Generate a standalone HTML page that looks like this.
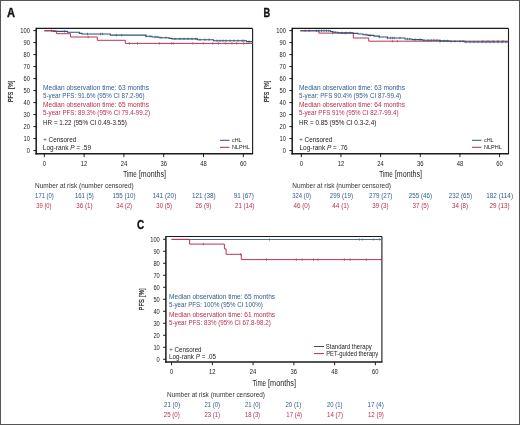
<!DOCTYPE html>
<html><head><meta charset="utf-8"><style>
html,body{margin:0;padding:0;background:#fff;}
body{width:520px;height:425px;overflow:hidden;}
svg{display:block;font-family:"Liberation Sans", sans-serif;filter:blur(0.3px);}
</style></head><body>
<svg width="520" height="425" viewBox="0 0 520 425">
<rect x="0" y="0" width="520" height="425" fill="#fff"/>
<rect x="0.5" y="0.5" width="519" height="424" fill="none" stroke="#555" stroke-width="1"/>
<text x="7.00" y="16.90" font-size="12.2" fill="#111" text-anchor="start" textLength="8.00" lengthAdjust="spacingAndGlyphs" font-weight="bold" stroke="#111" stroke-width="0.35">A</text>
<line x1="36.20" y1="28.40" x2="252.60" y2="28.40" stroke="#1a1a1a" stroke-width="1.1"/>
<line x1="252.60" y1="28.40" x2="252.60" y2="153.80" stroke="#1a1a1a" stroke-width="1.1"/>
<line x1="36.20" y1="27.85" x2="36.20" y2="154.60" stroke="#1a1a1a" stroke-width="1.5"/>
<line x1="35.45" y1="153.80" x2="253.15" y2="153.80" stroke="#1a1a1a" stroke-width="1.6"/>
<line x1="33.40" y1="150.60" x2="36.20" y2="150.60" stroke="#1a1a1a" stroke-width="1.0"/>
<text x="29.90" y="152.90" font-size="6.5" fill="#222" text-anchor="end" textLength="3.20" lengthAdjust="spacingAndGlyphs">0</text>
<line x1="33.40" y1="138.60" x2="36.20" y2="138.60" stroke="#1a1a1a" stroke-width="1.0"/>
<text x="29.90" y="140.90" font-size="6.5" fill="#222" text-anchor="end" textLength="6.40" lengthAdjust="spacingAndGlyphs">10</text>
<line x1="33.40" y1="126.60" x2="36.20" y2="126.60" stroke="#1a1a1a" stroke-width="1.0"/>
<text x="29.90" y="128.90" font-size="6.5" fill="#222" text-anchor="end" textLength="6.40" lengthAdjust="spacingAndGlyphs">20</text>
<line x1="33.40" y1="114.60" x2="36.20" y2="114.60" stroke="#1a1a1a" stroke-width="1.0"/>
<text x="29.90" y="116.90" font-size="6.5" fill="#222" text-anchor="end" textLength="6.40" lengthAdjust="spacingAndGlyphs">30</text>
<line x1="33.40" y1="102.60" x2="36.20" y2="102.60" stroke="#1a1a1a" stroke-width="1.0"/>
<text x="29.90" y="104.90" font-size="6.5" fill="#222" text-anchor="end" textLength="6.40" lengthAdjust="spacingAndGlyphs">40</text>
<line x1="33.40" y1="90.60" x2="36.20" y2="90.60" stroke="#1a1a1a" stroke-width="1.0"/>
<text x="29.90" y="92.90" font-size="6.5" fill="#222" text-anchor="end" textLength="6.40" lengthAdjust="spacingAndGlyphs">50</text>
<line x1="33.40" y1="78.60" x2="36.20" y2="78.60" stroke="#1a1a1a" stroke-width="1.0"/>
<text x="29.90" y="80.90" font-size="6.5" fill="#222" text-anchor="end" textLength="6.40" lengthAdjust="spacingAndGlyphs">60</text>
<line x1="33.40" y1="66.60" x2="36.20" y2="66.60" stroke="#1a1a1a" stroke-width="1.0"/>
<text x="29.90" y="68.90" font-size="6.5" fill="#222" text-anchor="end" textLength="6.40" lengthAdjust="spacingAndGlyphs">70</text>
<line x1="33.40" y1="54.60" x2="36.20" y2="54.60" stroke="#1a1a1a" stroke-width="1.0"/>
<text x="29.90" y="56.90" font-size="6.5" fill="#222" text-anchor="end" textLength="6.40" lengthAdjust="spacingAndGlyphs">80</text>
<line x1="33.40" y1="42.60" x2="36.20" y2="42.60" stroke="#1a1a1a" stroke-width="1.0"/>
<text x="29.90" y="44.90" font-size="6.5" fill="#222" text-anchor="end" textLength="6.40" lengthAdjust="spacingAndGlyphs">90</text>
<line x1="33.40" y1="30.60" x2="36.20" y2="30.60" stroke="#1a1a1a" stroke-width="1.0"/>
<text x="29.90" y="32.90" font-size="6.5" fill="#222" text-anchor="end" textLength="9.60" lengthAdjust="spacingAndGlyphs">100</text>
<line x1="44.30" y1="153.80" x2="44.30" y2="157.00" stroke="#1a1a1a" stroke-width="1.0"/>
<text x="44.30" y="165.80" font-size="6.6" fill="#222" text-anchor="middle" textLength="3.25" lengthAdjust="spacingAndGlyphs">0</text>
<line x1="84.10" y1="153.80" x2="84.10" y2="157.00" stroke="#1a1a1a" stroke-width="1.0"/>
<text x="84.10" y="165.80" font-size="6.6" fill="#222" text-anchor="middle" textLength="6.50" lengthAdjust="spacingAndGlyphs">12</text>
<line x1="123.90" y1="153.80" x2="123.90" y2="157.00" stroke="#1a1a1a" stroke-width="1.0"/>
<text x="123.90" y="165.80" font-size="6.6" fill="#222" text-anchor="middle" textLength="6.50" lengthAdjust="spacingAndGlyphs">24</text>
<line x1="163.70" y1="153.80" x2="163.70" y2="157.00" stroke="#1a1a1a" stroke-width="1.0"/>
<text x="163.70" y="165.80" font-size="6.6" fill="#222" text-anchor="middle" textLength="6.50" lengthAdjust="spacingAndGlyphs">36</text>
<line x1="203.50" y1="153.80" x2="203.50" y2="157.00" stroke="#1a1a1a" stroke-width="1.0"/>
<text x="203.50" y="165.80" font-size="6.6" fill="#222" text-anchor="middle" textLength="6.50" lengthAdjust="spacingAndGlyphs">48</text>
<line x1="243.30" y1="153.80" x2="243.30" y2="157.00" stroke="#1a1a1a" stroke-width="1.0"/>
<text x="243.30" y="165.80" font-size="6.6" fill="#222" text-anchor="middle" textLength="6.50" lengthAdjust="spacingAndGlyphs">60</text>
<text x="123.30" y="177.40" font-size="8.8" fill="#222" text-anchor="start" textLength="13.50" lengthAdjust="spacingAndGlyphs">Time</text>
<text x="138.90" y="177.40" font-size="8.8" fill="#222" text-anchor="start" textLength="27.10" lengthAdjust="spacingAndGlyphs">[months]</text>
<text transform="translate(12.80,102.00) rotate(-90)" x="0" y="0" font-size="7.0" fill="#111" stroke="#111" stroke-width="0.2" textLength="10.2" lengthAdjust="spacingAndGlyphs">PFS</text>
<text transform="translate(12.80,89.10) rotate(-90)" x="0" y="0" font-size="7.0" fill="#111" stroke="#111" stroke-width="0.15" textLength="8.5" lengthAdjust="spacingAndGlyphs">[%]</text>
<path d="M44.30,30.80 H53.20 V31.40 H67.50 V32.20 H79.40 V33.40 H82.00 V34.00 H110.30 V35.10 H146.00 V36.30 H152.00 V37.00 H159.00 V37.70 H169.00 V38.40 H172.00 V38.90 H197.50 V39.70 H213.50 V40.70 H246.50 V41.60 H252.60" fill="none" stroke="#2e5478" stroke-width="1.1"/>
<line x1="64.50" y1="30.20" x2="64.50" y2="32.60" stroke="#2e5478" stroke-width="0.7"/>
<line x1="87.50" y1="32.80" x2="87.50" y2="35.20" stroke="#2e5478" stroke-width="0.7"/>
<line x1="100.50" y1="32.80" x2="100.50" y2="35.20" stroke="#2e5478" stroke-width="0.7"/>
<line x1="102.50" y1="32.80" x2="102.50" y2="35.20" stroke="#2e5478" stroke-width="0.7"/>
<line x1="116.30" y1="33.90" x2="116.30" y2="36.30" stroke="#2e5478" stroke-width="0.7"/>
<line x1="121.70" y1="33.90" x2="121.70" y2="36.30" stroke="#2e5478" stroke-width="0.7"/>
<line x1="146.00" y1="35.10" x2="146.00" y2="37.50" stroke="#2e5478" stroke-width="0.7"/>
<line x1="150.00" y1="35.10" x2="150.00" y2="37.50" stroke="#2e5478" stroke-width="0.7"/>
<line x1="155.00" y1="35.80" x2="155.00" y2="38.20" stroke="#2e5478" stroke-width="0.7"/>
<line x1="157.00" y1="35.80" x2="157.00" y2="38.20" stroke="#2e5478" stroke-width="0.7"/>
<line x1="161.00" y1="36.50" x2="161.00" y2="38.90" stroke="#2e5478" stroke-width="0.7"/>
<line x1="166.00" y1="36.50" x2="166.00" y2="38.90" stroke="#2e5478" stroke-width="0.7"/>
<line x1="175.00" y1="37.70" x2="175.00" y2="40.10" stroke="#2e5478" stroke-width="0.7"/>
<line x1="180.00" y1="37.70" x2="180.00" y2="40.10" stroke="#2e5478" stroke-width="0.7"/>
<line x1="184.00" y1="37.70" x2="184.00" y2="40.10" stroke="#2e5478" stroke-width="0.7"/>
<line x1="188.00" y1="37.70" x2="188.00" y2="40.10" stroke="#2e5478" stroke-width="0.7"/>
<line x1="192.00" y1="37.70" x2="192.00" y2="40.10" stroke="#2e5478" stroke-width="0.7"/>
<line x1="196.00" y1="37.70" x2="196.00" y2="40.10" stroke="#2e5478" stroke-width="0.7"/>
<line x1="200.00" y1="38.50" x2="200.00" y2="40.90" stroke="#2e5478" stroke-width="0.7"/>
<line x1="205.00" y1="38.50" x2="205.00" y2="40.90" stroke="#2e5478" stroke-width="0.7"/>
<line x1="209.00" y1="38.50" x2="209.00" y2="40.90" stroke="#2e5478" stroke-width="0.7"/>
<line x1="217.00" y1="39.50" x2="217.00" y2="41.90" stroke="#2e5478" stroke-width="0.7"/>
<line x1="220.00" y1="39.50" x2="220.00" y2="41.90" stroke="#2e5478" stroke-width="0.7"/>
<line x1="223.00" y1="39.50" x2="223.00" y2="41.90" stroke="#2e5478" stroke-width="0.7"/>
<line x1="226.00" y1="39.50" x2="226.00" y2="41.90" stroke="#2e5478" stroke-width="0.7"/>
<line x1="230.00" y1="39.50" x2="230.00" y2="41.90" stroke="#2e5478" stroke-width="0.7"/>
<line x1="234.00" y1="39.50" x2="234.00" y2="41.90" stroke="#2e5478" stroke-width="0.7"/>
<line x1="238.00" y1="39.50" x2="238.00" y2="41.90" stroke="#2e5478" stroke-width="0.7"/>
<line x1="242.00" y1="39.50" x2="242.00" y2="41.90" stroke="#2e5478" stroke-width="0.7"/>
<line x1="244.00" y1="39.50" x2="244.00" y2="41.90" stroke="#2e5478" stroke-width="0.7"/>
<line x1="249.00" y1="40.40" x2="249.00" y2="42.80" stroke="#2e5478" stroke-width="0.7"/>
<path d="M44.30,30.80 H56.40 V33.70 H70.50 V37.00 H97.30 V40.30 H125.30 V43.40 H252.60" fill="none" stroke="#bb3556" stroke-width="1.0"/>
<line x1="51.50" y1="29.60" x2="51.50" y2="32.00" stroke="#bb3556" stroke-width="0.7"/>
<line x1="88.20" y1="35.80" x2="88.20" y2="38.20" stroke="#bb3556" stroke-width="0.7"/>
<line x1="129.40" y1="42.20" x2="129.40" y2="44.60" stroke="#bb3556" stroke-width="0.7"/>
<line x1="137.50" y1="42.20" x2="137.50" y2="44.60" stroke="#bb3556" stroke-width="0.7"/>
<line x1="159.40" y1="42.20" x2="159.40" y2="44.60" stroke="#bb3556" stroke-width="0.7"/>
<line x1="171.30" y1="42.20" x2="171.30" y2="44.60" stroke="#bb3556" stroke-width="0.7"/>
<line x1="173.20" y1="42.20" x2="173.20" y2="44.60" stroke="#bb3556" stroke-width="0.7"/>
<line x1="192.80" y1="42.20" x2="192.80" y2="44.60" stroke="#bb3556" stroke-width="0.7"/>
<line x1="203.20" y1="42.20" x2="203.20" y2="44.60" stroke="#bb3556" stroke-width="0.7"/>
<line x1="212.70" y1="42.20" x2="212.70" y2="44.60" stroke="#bb3556" stroke-width="0.7"/>
<line x1="218.40" y1="42.20" x2="218.40" y2="44.60" stroke="#bb3556" stroke-width="0.7"/>
<line x1="225.20" y1="42.20" x2="225.20" y2="44.60" stroke="#bb3556" stroke-width="0.7"/>
<line x1="231.90" y1="42.20" x2="231.90" y2="44.60" stroke="#bb3556" stroke-width="0.7"/>
<line x1="236.70" y1="42.20" x2="236.70" y2="44.60" stroke="#bb3556" stroke-width="0.7"/>
<line x1="243.40" y1="42.20" x2="243.40" y2="44.60" stroke="#bb3556" stroke-width="0.7"/>
<text x="43.00" y="89.80" font-size="6.8" fill="#2f5d8c" text-anchor="start" textLength="106.00" lengthAdjust="spacingAndGlyphs">Median observation time: 63 months</text>
<text x="43.00" y="97.60" font-size="6.8" fill="#2f5d8c" text-anchor="start" textLength="101.60" lengthAdjust="spacingAndGlyphs">5-year PFS: 91.6% (95% CI 87.2-96)</text>
<text x="43.00" y="107.10" font-size="6.8" fill="#b8304e" text-anchor="start" textLength="106.00" lengthAdjust="spacingAndGlyphs">Median observation time: 65 months</text>
<text x="43.00" y="115.20" font-size="6.8" fill="#b8304e" text-anchor="start" textLength="107.00" lengthAdjust="spacingAndGlyphs">5-year PFS: 89.3% (95% CI 79.4-99.2)</text>
<text x="43.00" y="124.60" font-size="6.8" fill="#222" text-anchor="start" textLength="83.80" lengthAdjust="spacingAndGlyphs">HR = 1.22 (95% CI 0.49-3.55)</text>
<text x="43.30" y="141.10" font-size="6.0" fill="#333" text-anchor="start">+</text>
<text x="48.60" y="142.00" font-size="6.4" fill="#222" text-anchor="start" textLength="27.80" lengthAdjust="spacingAndGlyphs">Censored</text>
<text x="42.80" y="149.70" font-size="6.3" fill="#222" textLength="48.20" lengthAdjust="spacingAndGlyphs">Log-rank <tspan font-style="italic">P</tspan> = .59</text>
<line x1="220.00" y1="140.30" x2="229.50" y2="140.30" stroke="#2f5378" stroke-width="1.0"/>
<text x="232.00" y="142.00" font-size="5.5" fill="#222" text-anchor="start" textLength="9.50" lengthAdjust="spacingAndGlyphs">cHL</text>
<line x1="220.00" y1="147.30" x2="229.50" y2="147.30" stroke="#a33055" stroke-width="1.0"/>
<text x="232.00" y="149.00" font-size="5.5" fill="#222" text-anchor="start" textLength="17.70" lengthAdjust="spacingAndGlyphs">NLPHL</text>
<text x="35.10" y="187.80" font-size="6.5" fill="#333" text-anchor="start" textLength="98.60" lengthAdjust="spacingAndGlyphs">Number at risk (number censored)</text>
<text x="35.10" y="197.70" font-size="6.4" fill="#2f5d8c" text-anchor="start" textLength="18.70" lengthAdjust="spacingAndGlyphs">171 (0)</text>
<text x="75.00" y="197.70" font-size="6.4" fill="#2f5d8c" text-anchor="start" textLength="18.80" lengthAdjust="spacingAndGlyphs">161 (5)</text>
<text x="112.50" y="197.70" font-size="6.4" fill="#2f5d8c" text-anchor="start" textLength="23.00" lengthAdjust="spacingAndGlyphs">155 (10)</text>
<text x="152.50" y="197.70" font-size="6.4" fill="#2f5d8c" text-anchor="start" textLength="23.80" lengthAdjust="spacingAndGlyphs">141 (20)</text>
<text x="192.00" y="197.70" font-size="6.4" fill="#2f5d8c" text-anchor="start" textLength="23.50" lengthAdjust="spacingAndGlyphs">121 (38)</text>
<text x="233.80" y="197.70" font-size="6.4" fill="#2f5d8c" text-anchor="start" textLength="20.00" lengthAdjust="spacingAndGlyphs">91 (67)</text>
<text x="36.30" y="207.60" font-size="6.4" fill="#b8304e" text-anchor="start" textLength="15.20" lengthAdjust="spacingAndGlyphs">39 (0)</text>
<text x="76.30" y="207.60" font-size="6.4" fill="#b8304e" text-anchor="start" textLength="16.20" lengthAdjust="spacingAndGlyphs">36 (1)</text>
<text x="116.30" y="207.60" font-size="6.4" fill="#b8304e" text-anchor="start" textLength="15.70" lengthAdjust="spacingAndGlyphs">34 (2)</text>
<text x="156.30" y="207.60" font-size="6.4" fill="#b8304e" text-anchor="start" textLength="15.70" lengthAdjust="spacingAndGlyphs">30 (5)</text>
<text x="195.50" y="207.60" font-size="6.4" fill="#b8304e" text-anchor="start" textLength="15.80" lengthAdjust="spacingAndGlyphs">26 (9)</text>
<text x="235.00" y="207.60" font-size="6.4" fill="#b8304e" text-anchor="start" textLength="19.30" lengthAdjust="spacingAndGlyphs">21 (14)</text>
<text x="263.60" y="16.90" font-size="12.2" fill="#111" text-anchor="start" textLength="6.70" lengthAdjust="spacingAndGlyphs" font-weight="bold" stroke="#111" stroke-width="0.35">B</text>
<line x1="292.20" y1="28.40" x2="508.50" y2="28.40" stroke="#1a1a1a" stroke-width="1.1"/>
<line x1="508.50" y1="28.40" x2="508.50" y2="153.80" stroke="#1a1a1a" stroke-width="1.1"/>
<line x1="292.20" y1="27.85" x2="292.20" y2="154.60" stroke="#1a1a1a" stroke-width="1.5"/>
<line x1="291.45" y1="153.80" x2="509.05" y2="153.80" stroke="#1a1a1a" stroke-width="1.6"/>
<line x1="289.40" y1="150.60" x2="292.20" y2="150.60" stroke="#1a1a1a" stroke-width="1.0"/>
<text x="285.90" y="152.90" font-size="6.5" fill="#222" text-anchor="end" textLength="3.20" lengthAdjust="spacingAndGlyphs">0</text>
<line x1="289.40" y1="138.60" x2="292.20" y2="138.60" stroke="#1a1a1a" stroke-width="1.0"/>
<text x="285.90" y="140.90" font-size="6.5" fill="#222" text-anchor="end" textLength="6.40" lengthAdjust="spacingAndGlyphs">10</text>
<line x1="289.40" y1="126.60" x2="292.20" y2="126.60" stroke="#1a1a1a" stroke-width="1.0"/>
<text x="285.90" y="128.90" font-size="6.5" fill="#222" text-anchor="end" textLength="6.40" lengthAdjust="spacingAndGlyphs">20</text>
<line x1="289.40" y1="114.60" x2="292.20" y2="114.60" stroke="#1a1a1a" stroke-width="1.0"/>
<text x="285.90" y="116.90" font-size="6.5" fill="#222" text-anchor="end" textLength="6.40" lengthAdjust="spacingAndGlyphs">30</text>
<line x1="289.40" y1="102.60" x2="292.20" y2="102.60" stroke="#1a1a1a" stroke-width="1.0"/>
<text x="285.90" y="104.90" font-size="6.5" fill="#222" text-anchor="end" textLength="6.40" lengthAdjust="spacingAndGlyphs">40</text>
<line x1="289.40" y1="90.60" x2="292.20" y2="90.60" stroke="#1a1a1a" stroke-width="1.0"/>
<text x="285.90" y="92.90" font-size="6.5" fill="#222" text-anchor="end" textLength="6.40" lengthAdjust="spacingAndGlyphs">50</text>
<line x1="289.40" y1="78.60" x2="292.20" y2="78.60" stroke="#1a1a1a" stroke-width="1.0"/>
<text x="285.90" y="80.90" font-size="6.5" fill="#222" text-anchor="end" textLength="6.40" lengthAdjust="spacingAndGlyphs">60</text>
<line x1="289.40" y1="66.60" x2="292.20" y2="66.60" stroke="#1a1a1a" stroke-width="1.0"/>
<text x="285.90" y="68.90" font-size="6.5" fill="#222" text-anchor="end" textLength="6.40" lengthAdjust="spacingAndGlyphs">70</text>
<line x1="289.40" y1="54.60" x2="292.20" y2="54.60" stroke="#1a1a1a" stroke-width="1.0"/>
<text x="285.90" y="56.90" font-size="6.5" fill="#222" text-anchor="end" textLength="6.40" lengthAdjust="spacingAndGlyphs">80</text>
<line x1="289.40" y1="42.60" x2="292.20" y2="42.60" stroke="#1a1a1a" stroke-width="1.0"/>
<text x="285.90" y="44.90" font-size="6.5" fill="#222" text-anchor="end" textLength="6.40" lengthAdjust="spacingAndGlyphs">90</text>
<line x1="289.40" y1="30.60" x2="292.20" y2="30.60" stroke="#1a1a1a" stroke-width="1.0"/>
<text x="285.90" y="32.90" font-size="6.5" fill="#222" text-anchor="end" textLength="9.60" lengthAdjust="spacingAndGlyphs">100</text>
<line x1="301.30" y1="153.80" x2="301.30" y2="157.00" stroke="#1a1a1a" stroke-width="1.0"/>
<text x="301.30" y="165.80" font-size="6.6" fill="#222" text-anchor="middle" textLength="3.25" lengthAdjust="spacingAndGlyphs">0</text>
<line x1="340.96" y1="153.80" x2="340.96" y2="157.00" stroke="#1a1a1a" stroke-width="1.0"/>
<text x="340.96" y="165.80" font-size="6.6" fill="#222" text-anchor="middle" textLength="6.50" lengthAdjust="spacingAndGlyphs">12</text>
<line x1="380.62" y1="153.80" x2="380.62" y2="157.00" stroke="#1a1a1a" stroke-width="1.0"/>
<text x="380.62" y="165.80" font-size="6.6" fill="#222" text-anchor="middle" textLength="6.50" lengthAdjust="spacingAndGlyphs">24</text>
<line x1="420.28" y1="153.80" x2="420.28" y2="157.00" stroke="#1a1a1a" stroke-width="1.0"/>
<text x="420.28" y="165.80" font-size="6.6" fill="#222" text-anchor="middle" textLength="6.50" lengthAdjust="spacingAndGlyphs">36</text>
<line x1="459.94" y1="153.80" x2="459.94" y2="157.00" stroke="#1a1a1a" stroke-width="1.0"/>
<text x="459.94" y="165.80" font-size="6.6" fill="#222" text-anchor="middle" textLength="6.50" lengthAdjust="spacingAndGlyphs">48</text>
<line x1="499.60" y1="153.80" x2="499.60" y2="157.00" stroke="#1a1a1a" stroke-width="1.0"/>
<text x="499.60" y="165.80" font-size="6.6" fill="#222" text-anchor="middle" textLength="6.50" lengthAdjust="spacingAndGlyphs">60</text>
<text x="379.30" y="177.40" font-size="8.8" fill="#222" text-anchor="start" textLength="13.50" lengthAdjust="spacingAndGlyphs">Time</text>
<text x="394.90" y="177.40" font-size="8.8" fill="#222" text-anchor="start" textLength="27.10" lengthAdjust="spacingAndGlyphs">[months]</text>
<text transform="translate(268.80,102.00) rotate(-90)" x="0" y="0" font-size="7.0" fill="#111" stroke="#111" stroke-width="0.2" textLength="10.2" lengthAdjust="spacingAndGlyphs">PFS</text>
<text transform="translate(268.80,89.10) rotate(-90)" x="0" y="0" font-size="7.0" fill="#111" stroke="#111" stroke-width="0.15" textLength="8.5" lengthAdjust="spacingAndGlyphs">[%]</text>
<path d="M300.30,30.80 H318.80 V33.10 H353.30 V38.00 H368.70 V41.20 H508.50" fill="none" stroke="#bb3556" stroke-width="1.0"/>
<line x1="305.00" y1="29.60" x2="305.00" y2="32.00" stroke="#bb3556" stroke-width="0.7"/>
<line x1="332.50" y1="31.90" x2="332.50" y2="34.30" stroke="#bb3556" stroke-width="0.7"/>
<line x1="345.00" y1="31.90" x2="345.00" y2="34.30" stroke="#bb3556" stroke-width="0.7"/>
<line x1="392.40" y1="40.00" x2="392.40" y2="42.40" stroke="#bb3556" stroke-width="0.7"/>
<line x1="397.40" y1="40.00" x2="397.40" y2="42.40" stroke="#bb3556" stroke-width="0.7"/>
<line x1="440.00" y1="40.00" x2="440.00" y2="42.40" stroke="#bb3556" stroke-width="0.7"/>
<line x1="483.00" y1="40.00" x2="483.00" y2="42.40" stroke="#bb3556" stroke-width="0.7"/>
<line x1="488.00" y1="40.00" x2="488.00" y2="42.40" stroke="#bb3556" stroke-width="0.7"/>
<line x1="493.00" y1="40.00" x2="493.00" y2="42.40" stroke="#bb3556" stroke-width="0.7"/>
<line x1="498.00" y1="40.00" x2="498.00" y2="42.40" stroke="#bb3556" stroke-width="0.7"/>
<line x1="503.00" y1="40.00" x2="503.00" y2="42.40" stroke="#bb3556" stroke-width="0.7"/>
<path d="M300.30,30.80 H330.50 V31.50 H333.00 V32.30 H338.00 V32.90 H353.00 V33.40 H358.00 V34.00 H363.00 V34.70 H368.00 V35.40 H374.00 V36.10 H379.30 V37.00 H387.40 V38.00 H405.00 V39.00 H412.00 V39.60 H422.30 V40.30 H440.00 V40.90 H449.00 V41.20 H464.70 V42.00 H508.50" fill="none" stroke="#2e5478" stroke-width="1.1"/>
<line x1="309.20" y1="29.60" x2="309.20" y2="32.00" stroke="#2e5478" stroke-width="0.7"/>
<line x1="316.50" y1="29.60" x2="316.50" y2="32.00" stroke="#2e5478" stroke-width="0.7"/>
<line x1="319.00" y1="29.60" x2="319.00" y2="32.00" stroke="#2e5478" stroke-width="0.7"/>
<line x1="321.50" y1="29.60" x2="321.50" y2="32.00" stroke="#2e5478" stroke-width="0.7"/>
<line x1="324.00" y1="29.60" x2="324.00" y2="32.00" stroke="#2e5478" stroke-width="0.7"/>
<line x1="326.50" y1="29.60" x2="326.50" y2="32.00" stroke="#2e5478" stroke-width="0.7"/>
<line x1="328.80" y1="29.60" x2="328.80" y2="32.00" stroke="#2e5478" stroke-width="0.7"/>
<line x1="335.00" y1="31.10" x2="335.00" y2="33.50" stroke="#2e5478" stroke-width="0.7"/>
<line x1="342.00" y1="31.70" x2="342.00" y2="34.10" stroke="#2e5478" stroke-width="0.7"/>
<line x1="346.00" y1="31.70" x2="346.00" y2="34.10" stroke="#2e5478" stroke-width="0.7"/>
<line x1="350.00" y1="31.70" x2="350.00" y2="34.10" stroke="#2e5478" stroke-width="0.7"/>
<line x1="366.00" y1="33.50" x2="366.00" y2="35.90" stroke="#2e5478" stroke-width="0.7"/>
<line x1="370.00" y1="34.20" x2="370.00" y2="36.60" stroke="#2e5478" stroke-width="0.7"/>
<line x1="379.30" y1="35.80" x2="379.30" y2="38.20" stroke="#2e5478" stroke-width="0.7"/>
<line x1="387.40" y1="36.80" x2="387.40" y2="39.20" stroke="#2e5478" stroke-width="0.7"/>
<line x1="390.50" y1="36.80" x2="390.50" y2="39.20" stroke="#2e5478" stroke-width="0.7"/>
<line x1="392.40" y1="36.80" x2="392.40" y2="39.20" stroke="#2e5478" stroke-width="0.7"/>
<line x1="394.30" y1="36.80" x2="394.30" y2="39.20" stroke="#2e5478" stroke-width="0.7"/>
<line x1="400.00" y1="36.80" x2="400.00" y2="39.20" stroke="#2e5478" stroke-width="0.7"/>
<line x1="407.40" y1="37.80" x2="407.40" y2="40.20" stroke="#2e5478" stroke-width="0.7"/>
<line x1="409.70" y1="37.80" x2="409.70" y2="40.20" stroke="#2e5478" stroke-width="0.7"/>
<line x1="415.00" y1="38.40" x2="415.00" y2="40.80" stroke="#2e5478" stroke-width="0.7"/>
<line x1="420.00" y1="38.40" x2="420.00" y2="40.80" stroke="#2e5478" stroke-width="0.7"/>
<line x1="424.00" y1="39.10" x2="424.00" y2="41.50" stroke="#2e5478" stroke-width="0.7"/>
<line x1="428.00" y1="39.10" x2="428.00" y2="41.50" stroke="#2e5478" stroke-width="0.7"/>
<line x1="431.00" y1="39.10" x2="431.00" y2="41.50" stroke="#2e5478" stroke-width="0.7"/>
<line x1="434.00" y1="39.10" x2="434.00" y2="41.50" stroke="#2e5478" stroke-width="0.7"/>
<line x1="437.00" y1="39.10" x2="437.00" y2="41.50" stroke="#2e5478" stroke-width="0.7"/>
<line x1="440.00" y1="39.70" x2="440.00" y2="42.10" stroke="#2e5478" stroke-width="0.7"/>
<line x1="444.00" y1="39.70" x2="444.00" y2="42.10" stroke="#2e5478" stroke-width="0.7"/>
<line x1="447.00" y1="39.70" x2="447.00" y2="42.10" stroke="#2e5478" stroke-width="0.7"/>
<line x1="451.00" y1="40.00" x2="451.00" y2="42.40" stroke="#2e5478" stroke-width="0.7"/>
<line x1="455.00" y1="40.00" x2="455.00" y2="42.40" stroke="#2e5478" stroke-width="0.7"/>
<line x1="460.00" y1="40.00" x2="460.00" y2="42.40" stroke="#2e5478" stroke-width="0.7"/>
<line x1="463.00" y1="40.00" x2="463.00" y2="42.40" stroke="#2e5478" stroke-width="0.7"/>
<line x1="466.00" y1="40.80" x2="466.00" y2="43.20" stroke="#2e5478" stroke-width="0.7"/>
<line x1="470.00" y1="40.80" x2="470.00" y2="43.20" stroke="#2e5478" stroke-width="0.7"/>
<line x1="474.00" y1="40.80" x2="474.00" y2="43.20" stroke="#2e5478" stroke-width="0.7"/>
<line x1="478.00" y1="40.80" x2="478.00" y2="43.20" stroke="#2e5478" stroke-width="0.7"/>
<line x1="482.00" y1="40.80" x2="482.00" y2="43.20" stroke="#2e5478" stroke-width="0.7"/>
<line x1="486.00" y1="40.80" x2="486.00" y2="43.20" stroke="#2e5478" stroke-width="0.7"/>
<line x1="490.00" y1="40.80" x2="490.00" y2="43.20" stroke="#2e5478" stroke-width="0.7"/>
<line x1="494.00" y1="40.80" x2="494.00" y2="43.20" stroke="#2e5478" stroke-width="0.7"/>
<line x1="498.00" y1="40.80" x2="498.00" y2="43.20" stroke="#2e5478" stroke-width="0.7"/>
<line x1="502.00" y1="40.80" x2="502.00" y2="43.20" stroke="#2e5478" stroke-width="0.7"/>
<line x1="506.00" y1="40.80" x2="506.00" y2="43.20" stroke="#2e5478" stroke-width="0.7"/>
<text x="299.00" y="89.80" font-size="6.8" fill="#2f5d8c" text-anchor="start" textLength="106.00" lengthAdjust="spacingAndGlyphs">Median observation time: 63 months</text>
<text x="299.00" y="97.60" font-size="6.8" fill="#2f5d8c" text-anchor="start" textLength="102.20" lengthAdjust="spacingAndGlyphs">5-year: PFS 90.4% (95% CI 87-99.4)</text>
<text x="299.00" y="107.10" font-size="6.8" fill="#b8304e" text-anchor="start" textLength="106.00" lengthAdjust="spacingAndGlyphs">Median observation time: 64 months</text>
<text x="299.00" y="115.20" font-size="6.8" fill="#b8304e" text-anchor="start" textLength="99.50" lengthAdjust="spacingAndGlyphs">5-year PFS 91% (95% CI 82.7-99.4)</text>
<text x="299.00" y="124.60" font-size="6.8" fill="#222" text-anchor="start" textLength="77.30" lengthAdjust="spacingAndGlyphs">HR = 0.85 (95% CI 0.3-2.4)</text>
<text x="299.30" y="141.10" font-size="6.0" fill="#333" text-anchor="start">+</text>
<text x="304.60" y="142.00" font-size="6.4" fill="#222" text-anchor="start" textLength="27.80" lengthAdjust="spacingAndGlyphs">Censored</text>
<text x="299.50" y="149.70" font-size="6.3" fill="#222" textLength="48.20" lengthAdjust="spacingAndGlyphs">Log-rank <tspan font-style="italic">P</tspan> = .76</text>
<line x1="472.00" y1="140.30" x2="481.50" y2="140.30" stroke="#2f5378" stroke-width="1.0"/>
<text x="484.00" y="142.00" font-size="5.5" fill="#222" text-anchor="start" textLength="9.50" lengthAdjust="spacingAndGlyphs">cHL</text>
<line x1="472.00" y1="147.30" x2="481.50" y2="147.30" stroke="#a33055" stroke-width="1.0"/>
<text x="484.00" y="149.00" font-size="5.5" fill="#222" text-anchor="start" textLength="17.70" lengthAdjust="spacingAndGlyphs">NLPHL</text>
<text x="292.30" y="187.80" font-size="6.5" fill="#333" text-anchor="start" textLength="98.60" lengthAdjust="spacingAndGlyphs">Number at risk (number censored)</text>
<text x="292.30" y="197.70" font-size="6.4" fill="#2f5d8c" text-anchor="start" textLength="18.70" lengthAdjust="spacingAndGlyphs">324 (0)</text>
<text x="329.80" y="197.70" font-size="6.4" fill="#2f5d8c" text-anchor="start" textLength="23.20" lengthAdjust="spacingAndGlyphs">299 (19)</text>
<text x="369.00" y="197.70" font-size="6.4" fill="#2f5d8c" text-anchor="start" textLength="23.30" lengthAdjust="spacingAndGlyphs">279 (27)</text>
<text x="408.80" y="197.70" font-size="6.4" fill="#2f5d8c" text-anchor="start" textLength="23.20" lengthAdjust="spacingAndGlyphs">255 (46)</text>
<text x="448.80" y="197.70" font-size="6.4" fill="#2f5d8c" text-anchor="start" textLength="23.20" lengthAdjust="spacingAndGlyphs">232 (65)</text>
<text x="486.30" y="197.70" font-size="6.4" fill="#2f5d8c" text-anchor="start" textLength="26.70" lengthAdjust="spacingAndGlyphs">182 (114)</text>
<text x="293.50" y="207.60" font-size="6.4" fill="#b8304e" text-anchor="start" textLength="16.30" lengthAdjust="spacingAndGlyphs">46 (0)</text>
<text x="332.30" y="207.60" font-size="6.4" fill="#b8304e" text-anchor="start" textLength="16.70" lengthAdjust="spacingAndGlyphs">44 (1)</text>
<text x="372.30" y="207.60" font-size="6.4" fill="#b8304e" text-anchor="start" textLength="16.20" lengthAdjust="spacingAndGlyphs">39 (3)</text>
<text x="412.50" y="207.60" font-size="6.4" fill="#b8304e" text-anchor="start" textLength="16.30" lengthAdjust="spacingAndGlyphs">37 (5)</text>
<text x="452.00" y="207.60" font-size="6.4" fill="#b8304e" text-anchor="start" textLength="16.00" lengthAdjust="spacingAndGlyphs">34 (8)</text>
<text x="489.50" y="207.60" font-size="6.4" fill="#b8304e" text-anchor="start" textLength="20.00" lengthAdjust="spacingAndGlyphs">29 (13)</text>
<text x="136.90" y="229.00" font-size="12.2" fill="#111" text-anchor="start" textLength="7.20" lengthAdjust="spacingAndGlyphs" font-weight="bold" stroke="#111" stroke-width="0.35">C</text>
<line x1="165.90" y1="236.50" x2="381.90" y2="236.50" stroke="#1a1a1a" stroke-width="1.0"/>
<line x1="381.90" y1="236.50" x2="381.90" y2="362.00" stroke="#1a1a1a" stroke-width="1.1"/>
<line x1="165.90" y1="235.95" x2="165.90" y2="362.80" stroke="#1a1a1a" stroke-width="1.5"/>
<line x1="165.15" y1="362.00" x2="382.45" y2="362.00" stroke="#1a1a1a" stroke-width="1.6"/>
<line x1="163.10" y1="359.30" x2="165.90" y2="359.30" stroke="#1a1a1a" stroke-width="1.0"/>
<text x="159.80" y="361.60" font-size="6.5" fill="#222" text-anchor="end" textLength="3.20" lengthAdjust="spacingAndGlyphs">0</text>
<line x1="163.10" y1="347.30" x2="165.90" y2="347.30" stroke="#1a1a1a" stroke-width="1.0"/>
<text x="159.80" y="349.60" font-size="6.5" fill="#222" text-anchor="end" textLength="6.40" lengthAdjust="spacingAndGlyphs">10</text>
<line x1="163.10" y1="335.30" x2="165.90" y2="335.30" stroke="#1a1a1a" stroke-width="1.0"/>
<text x="159.80" y="337.60" font-size="6.5" fill="#222" text-anchor="end" textLength="6.40" lengthAdjust="spacingAndGlyphs">20</text>
<line x1="163.10" y1="323.30" x2="165.90" y2="323.30" stroke="#1a1a1a" stroke-width="1.0"/>
<text x="159.80" y="325.60" font-size="6.5" fill="#222" text-anchor="end" textLength="6.40" lengthAdjust="spacingAndGlyphs">30</text>
<line x1="163.10" y1="311.30" x2="165.90" y2="311.30" stroke="#1a1a1a" stroke-width="1.0"/>
<text x="159.80" y="313.60" font-size="6.5" fill="#222" text-anchor="end" textLength="6.40" lengthAdjust="spacingAndGlyphs">40</text>
<line x1="163.10" y1="299.30" x2="165.90" y2="299.30" stroke="#1a1a1a" stroke-width="1.0"/>
<text x="159.80" y="301.60" font-size="6.5" fill="#222" text-anchor="end" textLength="6.40" lengthAdjust="spacingAndGlyphs">50</text>
<line x1="163.10" y1="287.30" x2="165.90" y2="287.30" stroke="#1a1a1a" stroke-width="1.0"/>
<text x="159.80" y="289.60" font-size="6.5" fill="#222" text-anchor="end" textLength="6.40" lengthAdjust="spacingAndGlyphs">60</text>
<line x1="163.10" y1="275.30" x2="165.90" y2="275.30" stroke="#1a1a1a" stroke-width="1.0"/>
<text x="159.80" y="277.60" font-size="6.5" fill="#222" text-anchor="end" textLength="6.40" lengthAdjust="spacingAndGlyphs">70</text>
<line x1="163.10" y1="263.30" x2="165.90" y2="263.30" stroke="#1a1a1a" stroke-width="1.0"/>
<text x="159.80" y="265.60" font-size="6.5" fill="#222" text-anchor="end" textLength="6.40" lengthAdjust="spacingAndGlyphs">80</text>
<line x1="163.10" y1="251.30" x2="165.90" y2="251.30" stroke="#1a1a1a" stroke-width="1.0"/>
<text x="159.80" y="253.60" font-size="6.5" fill="#222" text-anchor="end" textLength="6.40" lengthAdjust="spacingAndGlyphs">90</text>
<line x1="163.10" y1="239.30" x2="165.90" y2="239.30" stroke="#1a1a1a" stroke-width="1.0"/>
<text x="159.80" y="241.60" font-size="6.5" fill="#222" text-anchor="end" textLength="9.60" lengthAdjust="spacingAndGlyphs">100</text>
<line x1="171.60" y1="362.00" x2="171.60" y2="365.20" stroke="#1a1a1a" stroke-width="1.0"/>
<text x="171.60" y="373.90" font-size="6.6" fill="#222" text-anchor="middle" textLength="3.25" lengthAdjust="spacingAndGlyphs">0</text>
<line x1="212.35" y1="362.00" x2="212.35" y2="365.20" stroke="#1a1a1a" stroke-width="1.0"/>
<text x="212.35" y="373.90" font-size="6.6" fill="#222" text-anchor="middle" textLength="6.50" lengthAdjust="spacingAndGlyphs">12</text>
<line x1="253.10" y1="362.00" x2="253.10" y2="365.20" stroke="#1a1a1a" stroke-width="1.0"/>
<text x="253.10" y="373.90" font-size="6.6" fill="#222" text-anchor="middle" textLength="6.50" lengthAdjust="spacingAndGlyphs">24</text>
<line x1="293.85" y1="362.00" x2="293.85" y2="365.20" stroke="#1a1a1a" stroke-width="1.0"/>
<text x="293.85" y="373.90" font-size="6.6" fill="#222" text-anchor="middle" textLength="6.50" lengthAdjust="spacingAndGlyphs">36</text>
<line x1="334.60" y1="362.00" x2="334.60" y2="365.20" stroke="#1a1a1a" stroke-width="1.0"/>
<text x="334.60" y="373.90" font-size="6.6" fill="#222" text-anchor="middle" textLength="6.50" lengthAdjust="spacingAndGlyphs">48</text>
<line x1="375.35" y1="362.00" x2="375.35" y2="365.20" stroke="#1a1a1a" stroke-width="1.0"/>
<text x="375.35" y="373.90" font-size="6.6" fill="#222" text-anchor="middle" textLength="6.50" lengthAdjust="spacingAndGlyphs">60</text>
<text x="252.50" y="386.00" font-size="8.8" fill="#222" text-anchor="start" textLength="13.50" lengthAdjust="spacingAndGlyphs">Time</text>
<text x="268.10" y="386.00" font-size="8.8" fill="#222" text-anchor="start" textLength="27.90" lengthAdjust="spacingAndGlyphs">[months]</text>
<text transform="translate(143.80,310.40) rotate(-90)" x="0" y="0" font-size="7.4" fill="#111" stroke="#111" stroke-width="0.2" textLength="11.2" lengthAdjust="spacingAndGlyphs">PFS</text>
<text transform="translate(143.80,297.30) rotate(-90)" x="0" y="0" font-size="7.4" fill="#111" stroke="#111" stroke-width="0.15" textLength="9.0" lengthAdjust="spacingAndGlyphs">[%]</text>
<path d="M171.60,239.50 H381.90" fill="none" stroke="#4d6e90" stroke-width="1.1"/>
<line x1="269.50" y1="238.30" x2="269.50" y2="240.70" stroke="#4d6e90" stroke-width="0.7"/>
<line x1="359.40" y1="238.30" x2="359.40" y2="240.70" stroke="#4d6e90" stroke-width="0.7"/>
<line x1="362.30" y1="238.30" x2="362.30" y2="240.70" stroke="#4d6e90" stroke-width="0.7"/>
<line x1="373.30" y1="238.30" x2="373.30" y2="240.70" stroke="#4d6e90" stroke-width="0.7"/>
<line x1="379.60" y1="238.30" x2="379.60" y2="240.70" stroke="#4d6e90" stroke-width="0.7"/>
<path d="M171.60,239.30 H189.60 V244.10 H224.40 V248.90 H226.10 V254.30 H241.30 V259.60 H381.90" fill="none" stroke="#bb3556" stroke-width="1.0"/>
<line x1="203.40" y1="242.90" x2="203.40" y2="245.30" stroke="#bb3556" stroke-width="0.7"/>
<line x1="240.60" y1="253.10" x2="240.60" y2="255.50" stroke="#bb3556" stroke-width="0.7"/>
<line x1="266.50" y1="258.40" x2="266.50" y2="260.80" stroke="#bb3556" stroke-width="0.7"/>
<line x1="296.30" y1="258.40" x2="296.30" y2="260.80" stroke="#bb3556" stroke-width="0.7"/>
<line x1="302.30" y1="258.40" x2="302.30" y2="260.80" stroke="#bb3556" stroke-width="0.7"/>
<line x1="313.50" y1="258.40" x2="313.50" y2="260.80" stroke="#bb3556" stroke-width="0.7"/>
<line x1="318.00" y1="258.40" x2="318.00" y2="260.80" stroke="#bb3556" stroke-width="0.7"/>
<line x1="344.40" y1="258.40" x2="344.40" y2="260.80" stroke="#bb3556" stroke-width="0.7"/>
<line x1="350.20" y1="258.40" x2="350.20" y2="260.80" stroke="#bb3556" stroke-width="0.7"/>
<line x1="366.30" y1="258.40" x2="366.30" y2="260.80" stroke="#bb3556" stroke-width="0.7"/>
<line x1="381.30" y1="258.40" x2="381.30" y2="260.80" stroke="#bb3556" stroke-width="0.7"/>
<text x="169.00" y="298.90" font-size="6.8" fill="#2f5d8c" text-anchor="start" textLength="106.10" lengthAdjust="spacingAndGlyphs">Median observation time: 65 months</text>
<text x="169.00" y="306.80" font-size="6.8" fill="#2f5d8c" text-anchor="start" textLength="93.90" lengthAdjust="spacingAndGlyphs">5-year PFS: 100% (95% CI 100%)</text>
<text x="169.00" y="316.90" font-size="6.8" fill="#b8304e" text-anchor="start" textLength="106.10" lengthAdjust="spacingAndGlyphs">Median observation time: 61 months</text>
<text x="169.00" y="324.80" font-size="6.8" fill="#b8304e" text-anchor="start" textLength="101.80" lengthAdjust="spacingAndGlyphs">5-year PFS: 83% (95% CI 67.8-98.2)</text>
<text x="169.30" y="350.90" font-size="6.0" fill="#333" text-anchor="start">+</text>
<text x="174.60" y="351.80" font-size="6.4" fill="#222" text-anchor="start" textLength="27.00" lengthAdjust="spacingAndGlyphs">Censored</text>
<text x="169.00" y="359.20" font-size="6.3" fill="#222" textLength="47.00" lengthAdjust="spacingAndGlyphs">Log-rank <tspan font-style="italic">P</tspan> = .05</text>
<line x1="314.00" y1="346.50" x2="324.00" y2="346.50" stroke="#2f5378" stroke-width="1.0"/>
<text x="325.80" y="348.50" font-size="6.4" fill="#222" text-anchor="start" textLength="46.00" lengthAdjust="spacingAndGlyphs">Standard therapy</text>
<line x1="314.00" y1="353.60" x2="324.00" y2="353.60" stroke="#a33055" stroke-width="1.0"/>
<text x="326.20" y="355.90" font-size="6.4" fill="#222" text-anchor="start" textLength="52.10" lengthAdjust="spacingAndGlyphs">PET-guided therapy</text>
<text x="167.00" y="396.60" font-size="6.5" fill="#333" text-anchor="start" textLength="98.00" lengthAdjust="spacingAndGlyphs">Number at risk (number censored)</text>
<text x="164.00" y="406.80" font-size="6.4" fill="#2f5d8c" text-anchor="start" textLength="16.00" lengthAdjust="spacingAndGlyphs">21 (0)</text>
<text x="204.50" y="406.80" font-size="6.4" fill="#2f5d8c" text-anchor="start" textLength="15.50" lengthAdjust="spacingAndGlyphs">21 (0)</text>
<text x="245.00" y="406.80" font-size="6.4" fill="#2f5d8c" text-anchor="start" textLength="15.50" lengthAdjust="spacingAndGlyphs">21 (0)</text>
<text x="285.50" y="406.80" font-size="6.4" fill="#2f5d8c" text-anchor="start" textLength="15.80" lengthAdjust="spacingAndGlyphs">20 (1)</text>
<text x="327.00" y="406.80" font-size="6.4" fill="#2f5d8c" text-anchor="start" textLength="15.50" lengthAdjust="spacingAndGlyphs">20 (1)</text>
<text x="367.50" y="406.80" font-size="6.4" fill="#2f5d8c" text-anchor="start" textLength="16.30" lengthAdjust="spacingAndGlyphs">17 (4)</text>
<text x="163.80" y="416.80" font-size="6.4" fill="#b8304e" text-anchor="start" textLength="16.00" lengthAdjust="spacingAndGlyphs">25 (0)</text>
<text x="204.50" y="416.80" font-size="6.4" fill="#b8304e" text-anchor="start" textLength="15.50" lengthAdjust="spacingAndGlyphs">23 (1)</text>
<text x="245.00" y="416.80" font-size="6.4" fill="#b8304e" text-anchor="start" textLength="15.00" lengthAdjust="spacingAndGlyphs">18 (3)</text>
<text x="286.30" y="416.80" font-size="6.4" fill="#b8304e" text-anchor="start" textLength="15.70" lengthAdjust="spacingAndGlyphs">17 (4)</text>
<text x="327.00" y="416.80" font-size="6.4" fill="#b8304e" text-anchor="start" textLength="16.00" lengthAdjust="spacingAndGlyphs">14 (7)</text>
<text x="368.00" y="416.80" font-size="6.4" fill="#b8304e" text-anchor="start" textLength="15.80" lengthAdjust="spacingAndGlyphs">12 (9)</text>
</svg>
</body></html>
